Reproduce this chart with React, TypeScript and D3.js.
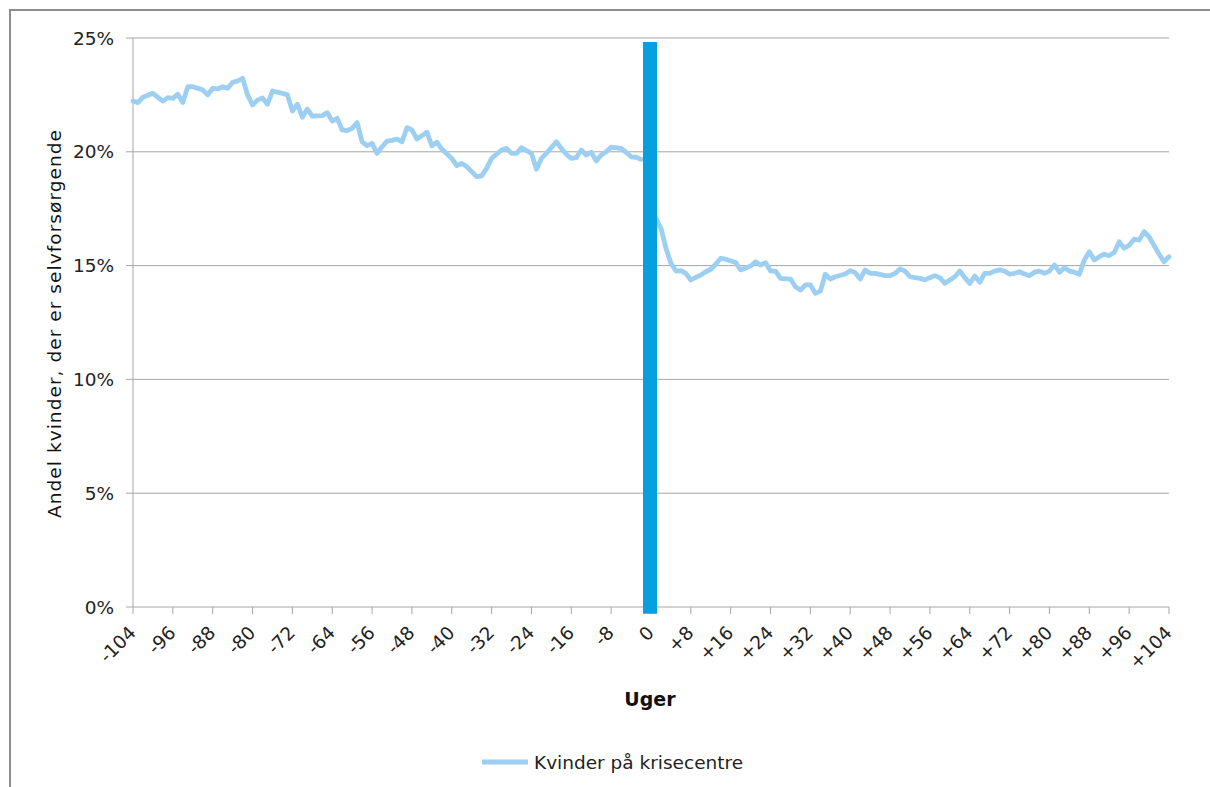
import React from "react";
import * as d3 from "d3";

const preWeeks = [-104,-103,-102,-100,-98,-97,-96,-95,-94,-93,-92,-90,-89,-88,-87,-86,-85,-84,-83,-82,-81,-80,-79,-78,-77,-76,-74,-73,-72,-71,-70,-69,-68,-66,-65,-64,-63,-62,-61,-60,-59,-58,-57,-56,-55,-54,-53,-52,-51,-50,-49,-48,-47,-46,-45,-44,-43,-42,-40,-39,-38,-37,-36,-35,-34,-33,-32,-30,-29,-28,-27,-26,-25,-24,-23,-22,-21,-19,-18,-17,-16,-15,-14,-13,-12,-11,-10,-9,-8,-6,-5,-4,-3,-2];
const preValues = [22.23,22.16,22.4,22.57,22.23,22.38,22.35,22.53,22.17,22.86,22.86,22.72,22.5,22.79,22.76,22.86,22.79,23.05,23.11,23.23,22.5,22.06,22.27,22.37,22.09,22.67,22.57,22.5,21.79,22.09,21.52,21.88,21.57,21.59,21.72,21.35,21.47,20.96,20.93,21.03,21.28,20.44,20.27,20.37,19.93,20.22,20.47,20.5,20.56,20.44,21.06,20.96,20.56,20.71,20.86,20.27,20.42,20.12,19.71,19.39,19.49,19.35,19.13,18.91,18.94,19.27,19.71,20.08,20.15,19.93,19.93,20.18,20.05,19.93,19.23,19.71,19.93,20.44,20.15,19.89,19.71,19.74,20.08,19.86,19.98,19.6,19.86,20.0,20.2,20.15,19.98,19.78,19.76,19.67];

const postWeeks = [1,2,3,4,5,6,7,8,10,11,12,13,14,15,17,18,20,21,22,23,24,25,26,28,29,30,31,32,33,34,35,36,37,39,40,41,42,43,44,45,47,48,49,50,51,52,53,54,55,56,57,58,59,60,61,62,63,64,65,66,67,68,69,70,71,72,73,74,75,76,77,78,79,80,81,82,83,84,85,86,87,88,89,90,91,92,93,94,95,96,97,98,99,100,102,103,104];
const postValues = [17.08,16.64,15.76,15.1,14.76,14.78,14.66,14.37,14.59,14.73,14.84,15.06,15.32,15.28,15.14,14.81,14.98,15.17,15.03,15.13,14.76,14.76,14.44,14.41,14.07,13.93,14.15,14.15,13.78,13.88,14.62,14.41,14.51,14.63,14.78,14.69,14.41,14.81,14.66,14.66,14.56,14.56,14.66,14.85,14.76,14.51,14.47,14.44,14.37,14.47,14.56,14.47,14.22,14.37,14.51,14.76,14.47,14.22,14.54,14.27,14.66,14.66,14.76,14.81,14.76,14.62,14.66,14.73,14.63,14.56,14.71,14.76,14.66,14.76,15.03,14.71,14.91,14.76,14.71,14.62,15.25,15.61,15.25,15.39,15.5,15.44,15.58,16.05,15.76,15.9,16.16,16.12,16.49,16.27,15.5,15.17,15.39];

const xTicks = d3.range(-104, 105, 8);
const yTicks = [0, 5, 10, 15, 20, 25];
const markerWeek = 0;
const markerRange = [24.82, -0.3];

const seriesName = "Kvinder på krisecentre";
const yTitle = "Andel kvinder, der er selvforsørgende";
const xTitle = "Uger";

const FONT = "'DejaVu Sans', Verdana, sans-serif";
const LINE = "#9ccff2";
const BAR = "#079fde";
const GRID = "#a6a6a6";
const FS = 18.5;

export default function App() {
  const x = d3.scaleLinear().domain([-104, 104]).range([133, 1169]);
  const y = d3.scaleLinear().domain([0, 25]).range([607, 38]);
  const line = d3
    .line<[number, number]>()
    .x((d) => x(d[0]))
    .y((d) => y(d[1]))
    .curve(d3.curveLinear);
  const pre = preWeeks.map((w, i) => [w, preValues[i]] as [number, number]);
  const post = postWeeks.map((w, i) => [w, postValues[i]] as [number, number]);
  const fmt = (w: number) => (w > 0 ? "+" + w : String(w));

  return (
    <svg
      width={1210}
      height={787}
      style={{ position: "absolute", left: 0, top: 0, background: "#fff" }}
      fontFamily={FONT}
    >
      <rect x={10} y={10} width={1230} height={800} fill="#fff" stroke="#8c8c8c" strokeWidth={2} />
      {yTicks.map((t) => (
        <g key={t}>
          <line x1={126} x2={x(104)} y1={y(t)} y2={y(t)} stroke={GRID} strokeWidth={1} />
          <text x={114} y={y(t) + 6.5} textAnchor="end" fontSize={FS} fill="#222">
            {t + "%"}
          </text>
        </g>
      ))}
      <line x1={x(-104)} x2={x(-104)} y1={y(25)} y2={y(0)} stroke={GRID} strokeWidth={1} />
      {xTicks.map((t) => (
        <g key={t}>
          <line x1={x(t)} x2={x(t)} y1={y(0)} y2={y(0) + 7} stroke={GRID} strokeWidth={1} />
          <text
            transform={`translate(${x(t) + 4},${y(0) + 27}) rotate(-45)`}
            textAnchor="end"
            fontSize={FS}
            fill="#222"
          >
            {fmt(t)}
          </text>
        </g>
      ))}
      <path d={line(pre) || ""} fill="none" stroke={LINE} strokeWidth={4.8} strokeLinejoin="round" strokeLinecap="round" />
      <path d={line(post) || ""} fill="none" stroke={LINE} strokeWidth={4.8} strokeLinejoin="round" strokeLinecap="round" />
      <line
        x1={x(markerWeek) - 1}
        x2={x(markerWeek) - 1}
        y1={y(markerRange[0])}
        y2={y(markerRange[1])}
        stroke={BAR}
        strokeWidth={14}
      />
      <text x={650} y={706} textAnchor="middle" fontSize={19} fontWeight="bold" fill="#111">
        {xTitle}
      </text>
      <text
        transform={`translate(61,324) rotate(-90)`}
        textAnchor="middle"
        fontSize={FS}
        fill="#111"
        textLength={388}
        lengthAdjust="spacing"
      >
        {yTitle}
      </text>
      <line x1={482} x2={528} y1={762} y2={762} stroke={LINE} strokeWidth={5} />
      <text x={534} y={769} fontSize={FS} fill="#222">
        {seriesName}
      </text>
    </svg>
  );
}
